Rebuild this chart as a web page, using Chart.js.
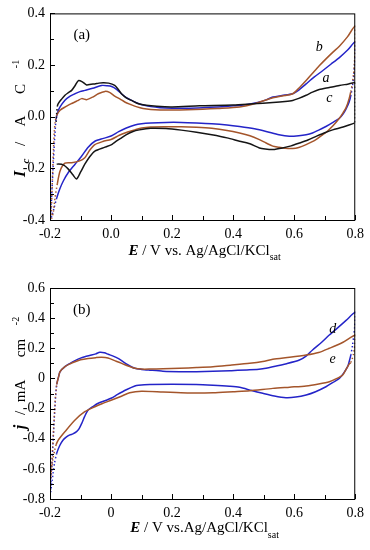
<!DOCTYPE html>
<html>
<head>
<meta charset="utf-8">
<script src="https://cdn.jsdelivr.net/npm/chart.js@4.4.0/dist/chart.umd.min.js"></script>
<style>
  html, body { margin: 0; padding: 0; background: #fff; }
  canvas { display: block; }
</style>
</head>
<body>
<canvas id="cvA" width="370" height="270"></canvas>
<canvas id="cvB" width="370" height="280"></canvas>
<script>
// ---- panel (a): normalised current I_c / A C^-1 vs E / V ----
// each curve: anodic sweep, turn at +0.8 V, cathodic sweep back
const aE = [
  -0.199, -0.196, -0.193, -0.190, -0.187, -0.184, -0.180, -0.174, -0.167, -0.151,
  -0.134, -0.118, -0.102, -0.086, -0.060, -0.031, -0.012, 0.002, 0.018, 0.034,
  0.050, 0.067, 0.085, 0.105, 0.130, 0.160, 0.200, 0.250, 0.300, 0.350,
  0.400, 0.440, 0.480, 0.510, 0.530, 0.560, 0.595, 0.615, 0.639, 0.665,
  0.693, 0.720, 0.748, 0.775, 0.800,
  0.800, 0.798, 0.795, 0.791, 0.786, 0.780,
  0.770, 0.760, 0.748, 0.727, 0.704, 0.680, 0.660, 0.639, 0.615, 0.584,
  0.550, 0.508, 0.470, 0.421, 0.380, 0.330, 0.280, 0.230, 0.180, 0.130,
  0.100, 0.078, 0.050, 0.025, 0.002, -0.025, -0.053, -0.075, -0.096, -0.118,
  -0.140, -0.156, -0.168, -0.178, -0.187, -0.194, -0.199
];
const aI = [
  -0.400, -0.340, -0.270, -0.200, -0.130, -0.070, -0.010, 0.020, 0.038, 0.064,
  0.080, 0.089, 0.097, 0.102, 0.110, 0.121, 0.120, 0.117, 0.106, 0.089,
  0.074, 0.063, 0.053, 0.045, 0.039, 0.035, 0.033, 0.033, 0.035, 0.038,
  0.042, 0.046, 0.055, 0.066, 0.076, 0.082, 0.089, 0.103, 0.127, 0.153,
  0.178, 0.203, 0.229, 0.258, 0.290,
  0.250, 0.205, 0.160, 0.120, 0.085, 0.057,
  0.030, 0.010, -0.006, -0.022, -0.038, -0.052, -0.063, -0.070, -0.074, -0.076,
  -0.070, -0.057, -0.047, -0.038, -0.032, -0.027, -0.024, -0.022, -0.022, -0.024,
  -0.027, -0.032, -0.044, -0.058, -0.074, -0.084, -0.095, -0.118, -0.152, -0.184,
  -0.216, -0.248, -0.280, -0.315, -0.355, -0.385, -0.405
];
const bE = [
  -0.196, -0.194, -0.192, -0.190, -0.188, -0.186, -0.183, -0.178, -0.167, -0.150,
  -0.129, -0.110, -0.096, -0.080, -0.060, -0.042, -0.020, -0.005, 0.012, 0.030,
  0.045, 0.065, 0.085, 0.105, 0.130, 0.160, 0.200, 0.250, 0.300, 0.350,
  0.421, 0.470, 0.530, 0.570, 0.595, 0.615, 0.639, 0.660, 0.682, 0.705,
  0.727, 0.748, 0.775, 0.800,
  0.800, 0.799, 0.797, 0.794, 0.790, 0.785, 0.780,
  0.770, 0.760, 0.748, 0.727, 0.705, 0.693, 0.670, 0.639, 0.615, 0.595,
  0.570, 0.550, 0.530, 0.508, 0.486, 0.455, 0.421, 0.380, 0.330, 0.280,
  0.230, 0.180, 0.130, 0.100, 0.078, 0.050, 0.027, 0.000, -0.027, -0.053,
  -0.070, -0.086, -0.105, -0.129, -0.151, -0.167, -0.176, -0.183, -0.189, -0.195
];
const bI = [
  -0.380, -0.310, -0.240, -0.170, -0.110, -0.060, -0.020, 0.005, 0.025, 0.038,
  0.051, 0.062, 0.070, 0.066, 0.076, 0.089, 0.098, 0.094, 0.080, 0.068,
  0.057, 0.047, 0.038, 0.032, 0.028, 0.026, 0.026, 0.027, 0.029, 0.032,
  0.038, 0.050, 0.073, 0.082, 0.089, 0.110, 0.140, 0.168, 0.197, 0.225,
  0.250, 0.273, 0.310, 0.352,
  0.300, 0.250, 0.200, 0.160, 0.125, 0.095, 0.070,
  0.035, 0.015, -0.006, -0.035, -0.060, -0.070, -0.090, -0.108, -0.119, -0.123,
  -0.122, -0.118, -0.114, -0.102, -0.089, -0.074, -0.063, -0.053, -0.045, -0.041,
  -0.039, -0.039, -0.040, -0.044, -0.051, -0.061, -0.072, -0.088, -0.096, -0.108,
  -0.130, -0.159, -0.172, -0.178, -0.180, -0.210, -0.260, -0.310, -0.368, -0.395
];
const cE = [
  -0.180, -0.178, -0.176, -0.173, -0.162, -0.151, -0.140, -0.129, -0.118, -0.107,
  -0.094, -0.080, -0.065, -0.053, -0.040, -0.026, -0.008, 0.012, 0.024, 0.034,
  0.050, 0.067, 0.090, 0.115, 0.150, 0.200, 0.290, 0.400, 0.465, 0.530,
  0.570, 0.595, 0.615, 0.639, 0.660, 0.682, 0.715, 0.748, 0.775, 0.800,
  0.800, 0.800, 0.800,
  0.797, 0.760, 0.726, 0.700, 0.672, 0.645, 0.617, 0.590, 0.562, 0.530,
  0.505, 0.486, 0.455, 0.421, 0.380, 0.330, 0.280, 0.230, 0.180, 0.130,
  0.093, 0.070, 0.049, 0.030, 0.011, 0.002, -0.020, -0.053, -0.070, -0.086,
  -0.100, -0.113, -0.125, -0.140, -0.152, -0.162, -0.172, -0.178
];
const cI = [
  -0.020, 0.015, 0.040, 0.051, 0.068, 0.083, 0.093, 0.102, 0.120, 0.140,
  0.135, 0.123, 0.126, 0.127, 0.130, 0.131, 0.130, 0.121, 0.105, 0.089,
  0.073, 0.063, 0.050, 0.044, 0.040, 0.038, 0.042, 0.045, 0.050, 0.055,
  0.059, 0.063, 0.071, 0.083, 0.095, 0.105, 0.113, 0.121, 0.126, 0.131,
  0.080, 0.030, -0.025,
  -0.025, -0.040, -0.051, -0.062, -0.076, -0.090, -0.102, -0.113, -0.121, -0.127,
  -0.125, -0.121, -0.105, -0.095, -0.082, -0.070, -0.060, -0.052, -0.046, -0.045,
  -0.051, -0.058, -0.070, -0.085, -0.100, -0.108, -0.118, -0.133, -0.155, -0.184,
  -0.215, -0.241, -0.225, -0.203, -0.190, -0.184, -0.183, -0.184
];
const labelsA = ['b', 'a', 'c'];
const labelsAE = [0.682, 0.704, 0.715];
const labelsAI = [0.267, 0.149, 0.072];

// ---- panel (b): current density j / mA cm^-2 vs E / V ----
const dE = [
  -0.200, -0.197, -0.194, -0.191, -0.188, -0.185, -0.182, -0.178, -0.172, -0.167,
  -0.151, -0.134, -0.118, -0.100, -0.086, -0.064, -0.050, -0.037, -0.022, -0.009,
  0.007, 0.023, 0.040, 0.056, 0.078, 0.100, 0.127, 0.170, 0.225, 0.280,
  0.334, 0.390, 0.454, 0.497, 0.530, 0.575, 0.617, 0.640, 0.660, 0.690,
  0.715, 0.745, 0.770, 0.800,
  0.800, 0.798, 0.795, 0.791, 0.786, 0.780,
  0.775, 0.762, 0.748, 0.726, 0.704, 0.670, 0.639, 0.605, 0.573, 0.535,
  0.497, 0.460, 0.421, 0.388, 0.334, 0.279, 0.200, 0.127, 0.090, 0.078,
  0.050, 0.020, 0.002, -0.020, -0.042, -0.058, -0.075, -0.086, -0.096, -0.105,
  -0.113, -0.125, -0.135, -0.147, -0.157, -0.168, -0.178, -0.185, -0.190, -0.195,
  -0.200
];
const dJ = [
  -0.790, -0.690, -0.580, -0.460, -0.340, -0.230, -0.130, -0.040, 0.010, 0.045,
  0.078, 0.100, 0.118, 0.135, 0.144, 0.155, 0.163, 0.173, 0.170, 0.160,
  0.148, 0.133, 0.110, 0.089, 0.067, 0.060, 0.055, 0.048, 0.045, 0.045,
  0.047, 0.051, 0.057, 0.065, 0.078, 0.098, 0.122, 0.150, 0.189, 0.240,
  0.288, 0.340, 0.385, 0.440,
  0.400, 0.340, 0.280, 0.220, 0.160, 0.111,
  0.078, 0.035, 0.000, -0.028, -0.055, -0.088, -0.110, -0.124, -0.128, -0.117,
  -0.099, -0.080, -0.059, -0.052, -0.045, -0.040, -0.039, -0.040, -0.045, -0.050,
  -0.075, -0.108, -0.130, -0.148, -0.165, -0.185, -0.210, -0.250, -0.298, -0.335,
  -0.353, -0.368, -0.375, -0.390, -0.409, -0.445, -0.497, -0.560, -0.630, -0.710,
  -0.790
];
const eE = [
  -0.197, -0.194, -0.191, -0.188, -0.185, -0.182, -0.178, -0.172, -0.167, -0.151,
  -0.134, -0.118, -0.100, -0.075, -0.050, -0.031, -0.010, 0.012, 0.035, 0.056,
  0.078, 0.100, 0.127, 0.170, 0.225, 0.280, 0.334, 0.390, 0.454, 0.497,
  0.530, 0.585, 0.639, 0.680, 0.715, 0.760, 0.800,
  0.800, 0.799, 0.797, 0.794, 0.790, 0.785,
  0.780, 0.770, 0.759, 0.740, 0.715, 0.680, 0.639, 0.585, 0.530, 0.454,
  0.400, 0.334, 0.250, 0.170, 0.100, 0.061, 0.034, 0.000, -0.030, -0.053,
  -0.086, -0.118, -0.151, -0.173, -0.180, -0.185, -0.190, -0.195, -0.198
];
const eJ = [
  -0.660, -0.560, -0.450, -0.330, -0.220, -0.120, -0.040, 0.010, 0.045, 0.078,
  0.097, 0.111, 0.124, 0.133, 0.138, 0.140, 0.135, 0.118, 0.100, 0.082,
  0.067, 0.062, 0.062, 0.064, 0.067, 0.072, 0.078, 0.088, 0.100, 0.112,
  0.127, 0.140, 0.155, 0.172, 0.200, 0.240, 0.288,
  0.260, 0.230, 0.195, 0.160, 0.130, 0.105,
  0.095, 0.060, 0.023, 0.000, -0.022, -0.037, -0.050, -0.058, -0.066, -0.082,
  -0.088, -0.095, -0.096, -0.090, -0.085, -0.095, -0.118, -0.145, -0.168, -0.188,
  -0.221, -0.276, -0.353, -0.409, -0.440, -0.480, -0.530, -0.600, -0.660
];
const labelsB = ['d', 'e'];
const labelsBE = [0.726, 0.726];
const labelsBJ = [0.326, 0.127];

const FONT = '"Liberation Serif", "Times New Roman", serif';
const BLUE = '#2424c8';
const BROWN = '#a4552b';
const BLACK = '#151515';

Chart.defaults.font.family = FONT;

function pts(E, Y) {
  const n = Math.min(E.length, Y.length);
  const out = [];
  for (let i = 0; i < n; i++) out.push({ x: E[i], y: Y[i] });
  return out;
}

// sparse points at the potential limits are drawn as dots
function dottedSeg(ctx) {
  const e0 = ctx.p0.parsed.x, e1 = ctx.p1.parsed.x;
  if ((e0 < -0.175 && e1 < -0.175) || (e0 > 0.784 && e1 > 0.784)) return [1.4, 2.4];
  return undefined;
}

function curve(E, Y, color) {
  return {
    data: pts(E, Y),
    showLine: true,
    borderColor: color,
    backgroundColor: color,
    borderWidth: 1.5,
    pointRadius: 0,
    pointHoverRadius: 0,
    tension: 0.25,
    segment: { borderDash: dottedSeg },
  };
}

const isMajor = (v) => Math.abs(Math.round(v * 10)) % 2 === 0;

function axis(min, max, fmt, size, isX) {
  return {
    type: 'linear',
    min, max,
    grid: { display: false, drawTicks: false },
    border: { display: false },
    ticks: {
      stepSize: 0.1,
      autoSkip: false,
      maxRotation: 0,
      padding: isX ? 6 : 5,
      color: '#000',
      font: { family: FONT, size: 14 },
      callback: (v) => (isMajor(v) ? fmt(v) : ''),
    },
    afterFit: (s) => { if (isX) s.height = size; else s.width = size; },
  };
}

// horizontal title, pieces laid out one after another, centred on x
function richText(ctx, parts, x, y) {
  ctx.save();
  ctx.textAlign = 'left';
  ctx.textBaseline = 'alphabetic';
  ctx.fillStyle = '#000';
  let w = 0;
  parts.forEach((p) => { ctx.font = p.font; w += ctx.measureText(p.text).width; });
  let cx = x - w / 2;
  parts.forEach((p) => {
    ctx.font = p.font;
    ctx.fillText(p.text, cx, y + (p.dy || 0));
    cx += ctx.measureText(p.text).width;
  });
  ctx.restore();
}

// vertical title, the reference spaces its pieces widely, so each one sits at its own centre
function vertText(ctx, parts, x) {
  ctx.save();
  ctx.fillStyle = '#000';
  ctx.textAlign = 'center';
  ctx.textBaseline = 'alphabetic';
  parts.forEach((p) => {
    ctx.save();
    ctx.translate(x + (p.dy || 0), p.at);
    ctx.rotate(-Math.PI / 2);
    ctx.font = p.font;
    ctx.fillText(p.text, 0, 0);
    ctx.restore();
  });
  ctx.restore();
}

// box, inward ticks, axis titles and curve letters
const framePlugin = {
  id: 'frame',
  afterDraw(chart, args, opts) {
    const { ctx, chartArea: ca } = chart;
    const x = chart.scales.x, y = chart.scales.y;
    ctx.save();
    ctx.strokeStyle = '#000';
    ctx.lineWidth = 1;
    ctx.strokeRect(ca.left + 0.5, ca.top + 0.5, ca.right - ca.left - 1, ca.bottom - ca.top);
    ctx.beginPath();
    x.ticks.forEach((t) => {
      const px = Math.round(x.getPixelForValue(t.value)) + 0.5;
      const len = isMajor(t.value) ? 5 : 4;
      ctx.moveTo(px, ca.bottom);
      ctx.lineTo(px, ca.bottom - len);
    });
    y.ticks.forEach((t) => {
      const py = Math.round(y.getPixelForValue(t.value)) + 0.5;
      const len = isMajor(t.value) ? 5 : 4;
      ctx.moveTo(ca.left, py);
      ctx.lineTo(ca.left + len, py);
    });
    ctx.stroke();

    richText(ctx, opts.xTitle, (ca.left + ca.right) / 2 + 2, ca.bottom + opts.xTitleGap);
    vertText(ctx, opts.yTitle, 25);

    ctx.fillStyle = '#000';
    ctx.textAlign = 'center';
    ctx.textBaseline = 'middle';
    ctx.font = '15px ' + FONT;
    ctx.fillText(opts.panel, x.getPixelForValue(opts.panelAt[0]), y.getPixelForValue(opts.panelAt[1]));
    ctx.font = 'italic 14px ' + FONT;
    opts.names.forEach((n, i) => {
      ctx.fillText(n, x.getPixelForValue(opts.namesX[i]), y.getPixelForValue(opts.namesY[i]));
    });
    ctx.restore();
  },
};

const fmtA = (v) => (Math.abs(v) < 1e-9 ? 0 : v).toFixed(1);
const fmtB = (v) => (Math.abs(v) < 1e-9 ? '0' : v.toFixed(1));
const big = '15px ' + FONT;
const bold = 'italic bold 16px ' + FONT;
const small = '10px ' + FONT;

new Chart(document.getElementById('cvA'), {
  type: 'scatter',
  data: { datasets: [curve(cE, cI, BLACK), curve(bE, bI, BROWN), curve(aE, aI, BLUE)] },
  options: {
    responsive: false,
    animation: false,
    layout: { padding: { top: 10, right: 14, left: 0, bottom: 0 } },
    plugins: {
      legend: { display: false },
      tooltip: { enabled: false },
      frame: {
        xTitle: [
          { text: 'E', font: 'italic bold 15px ' + FONT },
          { text: ' / V vs. Ag/AgCl/KCl', font: big },
          { text: 'sat', font: small, dy: 5 },
        ],
        xTitleGap: 35,
        yTitle: [
          { text: 'I', font: bold, at: 174 },
          { text: 'c', font: 'italic bold 11px ' + FONT, at: 161, dy: 4 },
          { text: '/', font: big, at: 144 },
          { text: 'A', font: big, at: 121 },
          { text: 'C', font: big, at: 89 },
          { text: '-1', font: small, at: 64, dy: -6 },
        ],
        panel: '(a)',
        panelAt: [-0.096, 0.317],
        names: labelsA, namesX: labelsAE, namesY: labelsAI,
      },
    },
    scales: {
      x: axis(-0.2, 0.8, fmtA, 50, true),
      y: axis(-0.4, 0.4, fmtA, 50, false),
    },
  },
  plugins: [framePlugin],
});

new Chart(document.getElementById('cvB'), {
  type: 'scatter',
  data: { datasets: [curve(eE, eJ, BROWN), curve(dE, dJ, BLUE)] },
  options: {
    responsive: false,
    animation: false,
    layout: { padding: { top: 18, right: 14, left: 0, bottom: 0 } },
    plugins: {
      legend: { display: false },
      tooltip: { enabled: false },
      frame: {
        xTitle: [
          { text: 'E', font: 'italic bold 15px ' + FONT },
          { text: ' / V vs.Ag/AgCl/KCl', font: big },
          { text: 'sat', font: small, dy: 6 },
        ],
        xTitleGap: 33,
        yTitle: [
          { text: 'j', font: bold, at: 157 },
          { text: '/', font: big, at: 143 },
          { text: 'mA', font: big, at: 121 },
          { text: 'cm', font: big, at: 78 },
          { text: '-2', font: small, at: 51, dy: -6 },
        ],
        panel: '(b)',
        panelAt: [-0.096, 0.454],
        names: labelsB, namesX: labelsBE, namesY: labelsBJ,
      },
    },
    scales: {
      x: axis(-0.2, 0.8, fmtB, 51, true),
      y: axis(-0.8, 0.6, fmtB, 50, false),
    },
  },
  plugins: [framePlugin],
});
</script>
</body>
</html>
